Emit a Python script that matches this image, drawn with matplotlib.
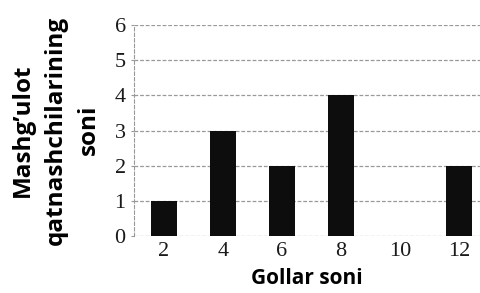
import matplotlib.pyplot as plt

gollar = ['2', '4', '6', '8', '10', '12']
qatnashchilar = [1, 3, 2, 4, 0, 2]

fig = plt.figure(figsize=(4.8, 2.93), dpi=100)
ax = fig.add_axes([134/480, 1 - 236/293, (480 - 134)/480, (236 - 25)/293])

x = range(len(gollar))
ax.bar(x, qatnashchilar, width=0.44, color='#0d0d0d', zorder=3)

ax.set_xlim(-0.5, 5.35)
ax.set_ylim(0, 6)
ax.set_yticks(range(0, 7))
ax.set_xticks(list(x))
ax.set_xticklabels(gollar)

# dashed grid like the scanned original
for yv in range(0, 7):
    ax.axhline(yv, color='#999999', lw=0.9, ls=(0, (3, 1.5)), zorder=1)

for s in ['top', 'right', 'bottom']:
    ax.spines[s].set_visible(False)
ax.spines['left'].set_linestyle((0, (3, 2)))
ax.spines['left'].set_color('#999999')
ax.spines['left'].set_linewidth(0.8)

ax.tick_params(axis='y', length=2, color='#999999', pad=4)
ax.tick_params(axis='x', length=0, pad=4)
for lab in ax.get_xticklabels() + ax.get_yticklabels():
    lab.set_fontfamily('Liberation Serif')
    lab.set_fontsize(16)
    lab.set_color('#1a1a1a')

fig.text(307/480, 1 - 278/293, 'Gollar soni', ha='center', va='center',
         fontfamily='Open Sans', fontweight='bold', fontsize=15)
fig.text(56/480, 1 - 130/293, 'Mashg\u2019ulot\nqatnashchilarining\nsoni',
         rotation=90, ha='center', va='center', multialignment='center',
         fontfamily='Open Sans', fontweight='bold', fontsize=17.5,
         linespacing=1.5)

fig.savefig('out.png', dpi=100)
